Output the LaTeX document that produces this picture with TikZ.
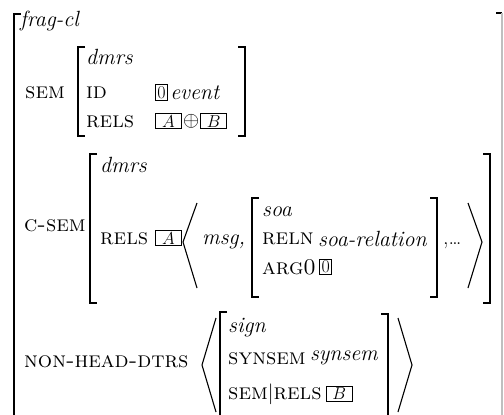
\documentclass[tikz,border=0pt]{standalone}
\usepackage{tikz}
\usetikzlibrary{positioning}

\begin{document}
\begin{tikzpicture}[x=1pt,y=-1pt,
    feat/.style={anchor=mid west,inner sep=0pt,font=\fontsize{22.5}{26}\selectfont\scshape},
    typ/.style={anchor=mid west,inner sep=0pt,font=\fontsize{22}{26}\selectfont\itshape},
    plain/.style={anchor=mid west,inner sep=0pt,font=\fontsize{22}{26}\selectfont},
    tag/.style={draw,line width=0.8pt,inner xsep=2pt,inner ysep=1.5pt,anchor=mid west,font=\fontsize{18}{19}\selectfont},
    wtag/.style={tag,minimum width=26pt},
    brk/.style={line width=1.4pt},
    ang/.style={line width=1.1pt}]
            \useasboundingbox (0,0) rectangle (504,415);

            % outer frame
            \coordinate (outL) at (14,14);
            \coordinate (outR) at (502,13);
            \draw[brk] ([xshift=7pt]outL) -- (outL) -- (14,420);
            \draw[brk] ([xshift=-6pt]outR) -- (outR);
            \draw[brk, black!25] (outR) -- (502,420);
            \node[typ] (fragcl) at (20,24) {frag-cl};

            % SEM
            \node[feat] (sem) at (25,96) {sem};
            \draw[brk] (85,47) -- (78,47) -- (78,136) -- (85,136);
            \draw[brk] (238,47) -- (245,47) -- (245,136) -- (238,136);
            \node[typ] (semtype) at (86,62) {dmrs};
            \node[feat] (semid) at (86,96) {id};
            \node[tag] (tagzero) at (155,96) {0};
            \node[typ, right=2pt of tagzero] (event) {event};
            \node[feat] (semrels) at (86,125) {rels};
            \node[wtag] (taga) at (155,125) {$A$};
            \node[plain, right=1pt of taga] (oplus) {$\oplus$};
            \node[wtag, right=1pt of oplus] (tagb) {$B$};

            % C-SEM
            \node[feat] (csem) at (24,229) {c-sem};
            \draw[brk] (97,154) -- (90,154) -- (90,303) -- (97,303);
            \draw[brk] (483,154) -- (490,154) -- (490,303) -- (483,303);
            \node[typ] (csemtype) at (100,170) {dmrs};
            \node[feat] (csemrels) at (100,242) {rels};
            \node[wtag] (tagatwo) at (155,242) {$A$};
            \draw[ang] (197,203) -- (183,242) -- (197,288);
            \node[typ] (msg) at (202,242) {msg,};
            \draw[brk] (259,198) -- (252,198) -- (252,297) -- (259,297);
            \draw[brk] (430,198) -- (437,198) -- (437,297) -- (430,297);
            \node[typ] (soa) at (262,214) {soa};
            \node[feat] (reln) at (262,242) {reln};
            \node[typ, right=4pt of reln] (soarel) {soa-relation};
            \node[feat] (arg) at (262,272) {arg0};
            \node[tag, right=3pt of arg] (tagzerotwo) {0};
            \node[plain] (dots) at (443,242) {,\dots};
            \draw[ang] (468,203) -- (482,242) -- (468,288);

            % NON-HEAD-DTRS
            \node[feat] (nhd) at (24,365) {non-head-dtrs};
            \draw[ang] (216,318) -- (202,365) -- (216,412);
            \draw[brk] (227,312) -- (220,312) -- (220,420);
            \draw[brk] (381,314) -- (388,314) -- (388,420);
            \node[typ] (sign) at (228,330) {sign};
            \node[feat] (synsem) at (228,362) {synsem};
            \node[typ, right=4pt of synsem] (synsemtype) {synsem};
            \node[feat] (semrelsp) at (228,397) {sem$\vert$rels};
            \node[wtag, right=4pt of semrelsp] (tagbtwo) {$B$};
            \draw[ang] (398,318) -- (412,365) -- (398,412);

\end{tikzpicture}
\end{document}
